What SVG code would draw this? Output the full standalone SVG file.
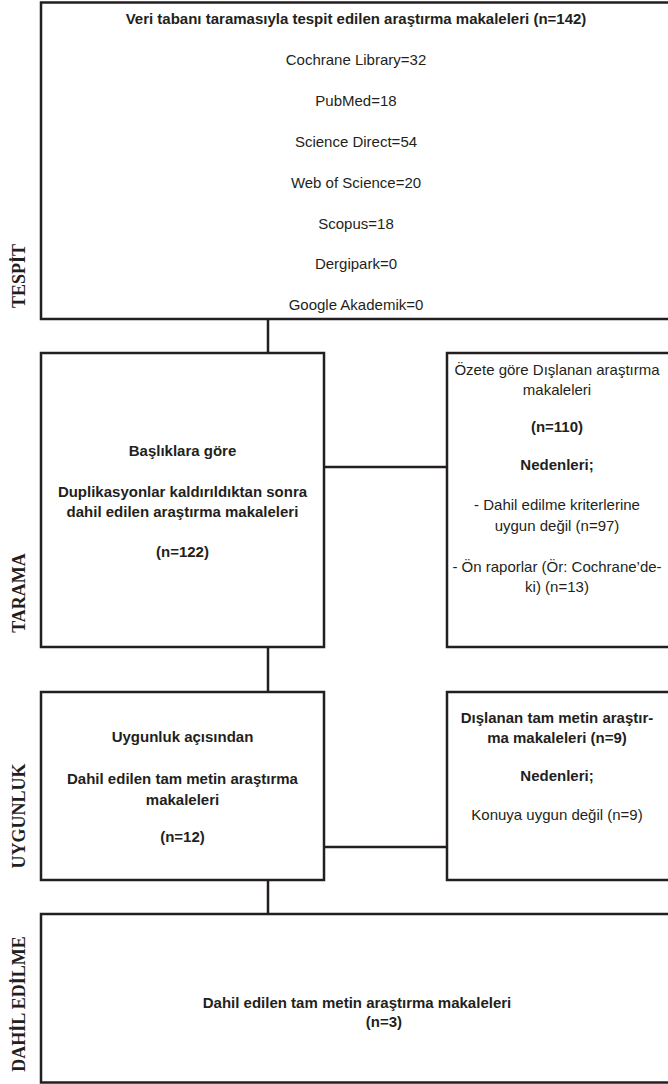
<svg xmlns="http://www.w3.org/2000/svg" width="668" height="1084" viewBox="0 0 668 1084">
  <style>
    .box { fill: #ffffff; stroke: #231f20; stroke-width: 2.5; }
    .link { stroke: #231f20; stroke-width: 2.5; fill: none; }
    .t { font-family: "Liberation Sans", Arial, sans-serif; font-size: 15px; fill: #231f20; text-anchor: middle; }
    .b { font-weight: bold; }
    .phase { font-family: "Liberation Serif", "Times New Roman", serif; font-size: 18px; font-weight: bold; fill: #231f20; text-anchor: middle; }
  </style>

  <rect width="668" height="1084" fill="#ffffff"/>

  <!-- phase labels down the left margin -->
  <g id="phase-labels">
    <text class="phase" transform="translate(25,276) rotate(-90)">TESPİT</text>
    <text class="phase" transform="translate(25,593) rotate(-90)">TARAMA</text>
    <text class="phase" transform="translate(25,816) rotate(-90)">UYGUNLUK</text>
    <text class="phase" transform="translate(25,1004) rotate(-90)">DAHİL EDİLME</text>
  </g>

  <!-- connectors -->
  <g id="connectors">
    <line class="link" x1="268" y1="319" x2="268" y2="353"/>
    <line class="link" x1="324" y1="467" x2="447" y2="467"/>
    <line class="link" x1="268" y1="647" x2="268" y2="692"/>
    <line class="link" x1="324" y1="847" x2="447" y2="847"/>
    <line class="link" x1="268" y1="880" x2="268" y2="914"/>
  </g>

  <!-- database search -->
  <g id="identified">
    <rect class="box" x="41" y="2.5" width="640" height="316.5"/>
    <text class="t b" x="356" y="24">Veri tabanı taramasıyla tespit edilen araştırma makaleleri (n=142)</text>
    <text class="t" x="356" y="65">Cochrane Library=32</text>
    <text class="t" x="356" y="106">PubMed=18</text>
    <text class="t" x="356" y="147">Science Direct=54</text>
    <text class="t" x="356" y="188">Web of Science=20</text>
    <text class="t" x="356" y="229">Scopus=18</text>
    <text class="t" x="356" y="269">Dergipark=0</text>
    <text class="t" x="356" y="310">Google Akademik=0</text>
  </g>

  <!-- screening by title -->
  <g id="screened">
    <rect class="box" x="41" y="353" width="283" height="294"/>
    <text class="t b" x="182.5" y="456">Başlıklara göre</text>
    <text class="t b" x="182.5" y="497">Duplikasyonlar kaldırıldıktan sonra</text>
    <text class="t b" x="182.5" y="517">dahil edilen araştırma makaleleri</text>
    <text class="t b" x="182.5" y="557">(n=122)</text>
  </g>

  <!-- excluded by abstract -->
  <g id="excluded-abstract">
    <rect class="box" x="447" y="353" width="233" height="294"/>
    <text class="t" x="557" y="375">Özete göre Dışlanan araştırma</text>
    <text class="t" x="557" y="395">makaleleri</text>
    <text class="t b" x="557" y="432">(n=110)</text>
    <text class="t b" x="557" y="470">Nedenleri;</text>
    <text class="t" x="557" y="510">- Dahil edilme kriterlerine</text>
    <text class="t" x="557" y="531">uygun değil (n=97)</text>
    <text class="t" x="557" y="572">- Ön raporlar (Ör: Cochrane’de-</text>
    <text class="t" x="557" y="592">ki) (n=13)</text>
  </g>

  <!-- eligibility -->
  <g id="eligible">
    <rect class="box" x="41" y="692" width="283" height="188"/>
    <text class="t b" x="182.5" y="742">Uygunluk açısından</text>
    <text class="t b" x="182.5" y="784">Dahil edilen tam metin araştırma</text>
    <text class="t b" x="182.5" y="805">makaleleri</text>
    <text class="t b" x="182.5" y="842">(n=12)</text>
  </g>

  <!-- excluded full texts -->
  <g id="excluded-fulltext">
    <rect class="box" x="447" y="692" width="233" height="188"/>
    <text class="t b" x="557" y="723">Dışlanan tam metin araştır-</text>
    <text class="t b" x="557" y="743">ma makaleleri (n=9)</text>
    <text class="t b" x="557" y="781">Nedenleri;</text>
    <text class="t" x="557" y="820">Konuya uygun değil (n=9)</text>
  </g>

  <!-- included studies -->
  <g id="included">
    <rect class="box" x="41" y="914" width="640" height="168.5"/>
    <text class="t b" x="357" y="1008">Dahil edilen tam metin araştırma makaleleri</text>
    <text class="t b" x="384" y="1027">(n=3)</text>
  </g>
</svg>
